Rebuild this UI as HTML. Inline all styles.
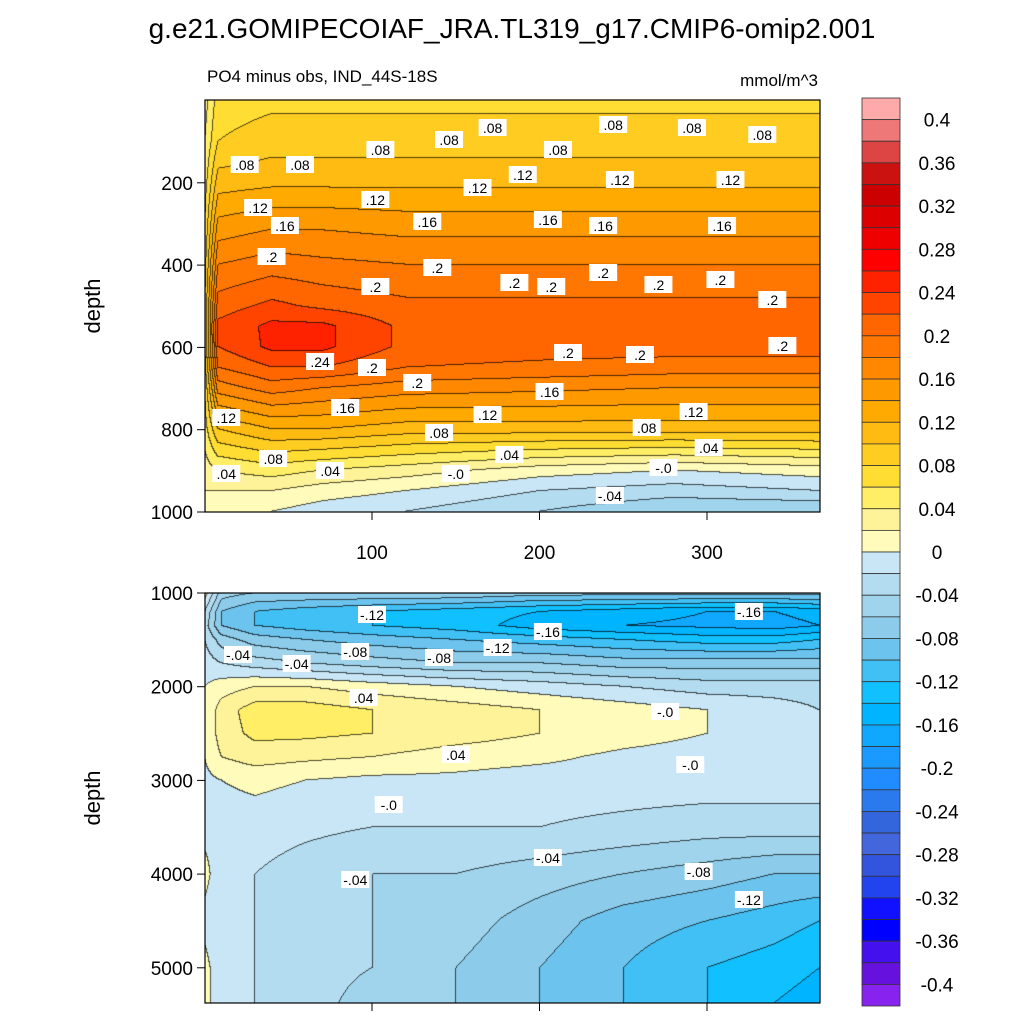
<!DOCTYPE html>
<html><head><meta charset="utf-8"><style>
body{margin:0;background:#fff;width:1024px;height:1024px;overflow:hidden;position:relative;font-family:"Liberation Sans",sans-serif}
canvas{position:absolute}
svg{position:absolute;left:0;top:0}
</style></head><body>
<canvas id="top" width="615" height="412" style="left:205px;top:100px"></canvas>
<canvas id="bot" width="615" height="410" style="left:205px;top:593px"></canvas>
<svg id="ov" width="1024" height="1024"></svg>
<script>
const warmColors=["#fffbbb","#fff399","#ffee66","#ffdd33","#ffcc22","#ffbb11","#ffaa00","#ff9900","#ff8800","#ff7700","#ff6600","#ff4400","#ff2200","#ff0000","#ee0000","#dd0000","#cc0000","#cc1111","#dd4444","#ee7777","#ffaaaa"];
const coldColors=["#c8e6f5","#b4dcf0","#a0d4ec","#8ccbea","#6cc4ee","#40c0f5","#10c0ff","#00b4ff","#10a8ff","#1a9aff","#208cff","#2a7aee","#3366dd","#4466dd","#3355dd","#2244ee","#1111ff","#0000ff","#4411ee","#6611dd","#8822ee"];
const cbLabels=["0.4","0.36","0.32","0.28","0.24","0.2","0.16","0.12","0.08","0.04","0","-0.04","-0.08","-0.12","-0.16","-0.2","-0.24","-0.28","-0.32","-0.36","-0.4"];
const cbValues=[0.4,0.36,0.32,0.28,0.24,0.2,0.16,0.12,0.08,0.04,0,-0.04,-0.08,-0.12,-0.16,-0.2,-0.24,-0.28,-0.32,-0.36,-0.4];
const topTimes=[0,8,40,70,120,200,280,367];
const topDepths=[0,100,200,300,400,500,550,600,650,700,800,900,950,1000];
const topVals=[
[0.03,0.07,0.075,0.075,0.075,0.075,0.075,0.075],
[0.04,0.08,0.09,0.09,0.09,0.09,0.09,0.09],
[0.05,0.11,0.115,0.115,0.115,0.115,0.115,0.115],
[0.06,0.145,0.155,0.155,0.15,0.15,0.15,0.15],
[0.07,0.18,0.19,0.185,0.18,0.18,0.18,0.18],
[0.08,0.21,0.225,0.215,0.205,0.205,0.205,0.205],
[0.08,0.225,0.245,0.245,0.215,0.215,0.215,0.215],
[0.08,0.22,0.245,0.245,0.215,0.21,0.21,0.21],
[0.07,0.2,0.22,0.22,0.2,0.195,0.19,0.19],
[0.06,0.17,0.19,0.18,0.17,0.165,0.16,0.16],
[0.05,0.1,0.12,0.12,0.11,0.11,0.11,0.11],
[0.03,0.04,0.05,0.04,0.03,0.01,0.0,0.01],
[0.02,0.02,0.02,0.01,0.0,-0.02,-0.03,-0.02],
[0.01,0.0,0.0,-0.01,-0.02,-0.04,-0.06,-0.06]];
const botTimes=[0,10,30,60,100,150,200,250,300,340,367];
const botDepths=[1000,1200,1350,1500,1750,2000,2250,2500,2750,3000,3500,4000,4500,5000,5375];
const botVals=[
[0.01,-0.05,-0.06,-0.06,-0.06,-0.06,-0.07,-0.07,-0.07,-0.07,-0.07],
[-0.02,-0.08,-0.1,-0.11,-0.12,-0.13,-0.14,-0.15,-0.16,-0.16,-0.15],
[-0.03,-0.08,-0.1,-0.11,-0.12,-0.13,-0.15,-0.16,-0.165,-0.17,-0.16],
[-0.02,-0.05,-0.07,-0.08,-0.09,-0.1,-0.11,-0.12,-0.13,-0.13,-0.12],
[-0.01,-0.02,-0.03,-0.04,-0.05,-0.06,-0.06,-0.07,-0.07,-0.07,-0.07],
[0.0,0.01,0.02,0.02,0.01,0.0,-0.01,-0.02,-0.03,-0.03,-0.03],
[0.0,0.03,0.05,0.05,0.04,0.03,0.02,0.01,0.0,-0.01,-0.02],
[0.0,0.03,0.045,0.045,0.04,0.03,0.02,0.01,0.0,-0.01,-0.02],
[0.0,0.02,0.03,0.025,0.02,0.01,0.005,-0.005,-0.01,-0.01,-0.015],
[-0.005,0.0,0.005,0.0,-0.005,-0.005,-0.01,-0.01,-0.01,-0.01,-0.01],
[-0.01,-0.01,-0.01,-0.015,-0.02,-0.02,-0.02,-0.025,-0.03,-0.03,-0.03],
[0.01,-0.02,-0.02,-0.03,-0.04,-0.04,-0.05,-0.06,-0.07,-0.08,-0.08],
[-0.01,-0.02,-0.02,-0.03,-0.04,-0.05,-0.07,-0.09,-0.1,-0.11,-0.12],
[0.01,-0.02,-0.02,-0.03,-0.04,-0.06,-0.08,-0.1,-0.12,-0.13,-0.14],
[0.01,-0.02,-0.02,-0.03,-0.05,-0.06,-0.08,-0.1,-0.12,-0.14,-0.15]];
const topLabels=[[".08",24,165],[".08",57,165],[".08",105,150],[".08",146,140],[".08",172,128],[".08",211,150],[".08",244,125],[".08",333,135],[".08",291,128],
[".12",32,208],[".12",102,200],[".12",163,188],[".12",190,175],[".12",248,180],[".12",314,180],
[".16",48,226],[".16",133,222],[".16",205,220],[".16",238,226],[".16",309,226],
[".2",40,257],[".2",102,287],[".2",139,268],[".2",185,283],[".2",207,287],[".2",238,273],[".2",271,285],[".2",308,280],[".2",339,300],[".2",345,346],[".2",217,353],[".2",260,355],[".2",100,368],[".2",127,383],
[".24",69,362],[".16",84,408],[".12",13,418],[".08",41,459],[".04",13,474],[".04",75,471],[".08",140,433],[".12",169,415],[".16",206,392],[".12",292,412],[".08",264,428],[".04",301,448],["-.0",274,468],["-.04",242,496],["-.0",150,474],[".04",182,455]];
const botLabels=[[".04",95,698],[".04",150,755],["-.0",110,805],["-.04",90,880],["-.04",20,655],["-.04",55,664],["-.08",90,652],["-.08",140,658],["-.12",100,615],["-.12",175,648],["-.16",205,632],["-.16",325,612],["-.0",275,712],["-.0",290,765],["-.04",205,858],["-.08",295,872],["-.12",325,900]];

function xT(t){return 204.5+t*1.675;}
function yBot(d){return 593+(d-1000)*0.0937;}
function yTop(d){return 100.5+d*0.4115;}
function lvl(v){return Math.floor(Math.round(v/0.02*1e5)/1e5);}
function col(v){const l=lvl(v);if(l>=0){return warmColors[Math.min(20,l)];}return coldColors[Math.min(20,-l-1)];}
function interp(arr,v){let i=0;while(i<arr.length-2&&v>arr[i+1])i++;let f=(v-arr[i])/(arr[i+1]-arr[i]);f=Math.max(0,Math.min(1,f));return [i,f];}
function sample(times,depths,vals,t,d){const [i,fi]=interp(times,t);const [j,fj]=interp(depths,d);
 const a=vals[j][i],b=vals[j][i+1],c=vals[j+1][i],e=vals[j+1][i+1];
 return (a*(1-fi)+b*fi)*(1-fj)+(c*(1-fi)+e*fi)*fj;}
function hex(h){return [parseInt(h.substr(1,2),16),parseInt(h.substr(3,2),16),parseInt(h.substr(5,2),16)];}
function drawField(cv,times,depths,vals,d0,dPerPx){
 const ctx=cv.getContext('2d');const W=cv.width,H=cv.height;
 const img=ctx.createImageData(W,H);const L=new Int16Array(W*H);const V=new Float32Array(W*H);
 for(let y=0;y<H;y++)for(let x=0;x<W;x++){const t=(x+0.5)/1.675;const d=d0+(y+0.5)*dPerPx;const v=sample(times,depths,vals,t,d);V[y*W+x]=v;L[y*W+x]=lvl(v);}
 for(let y=0;y<H;y++)for(let x=0;x<W;x++){const k=y*W+x;let c=hex(col(V[k]));
  const edge=(x+1<W&&L[k+1]!=L[k])||(y+1<H&&L[k+W]!=L[k]);
  if(edge)c=[c[0]*0.3,c[1]*0.3,c[2]*0.3];
  img.data[k*4]=c[0];img.data[k*4+1]=c[1];img.data[k*4+2]=c[2];img.data[k*4+3]=255;}
 ctx.putImageData(img,0,0);}
drawField(document.getElementById('top'),topTimes,topDepths,topVals,0,1/0.4115);
drawField(document.getElementById('bot'),botTimes,botDepths,botVals,1000,1/0.0937);

const NS="http://www.w3.org/2000/svg";const svg=document.getElementById('ov');
function el(tag,attrs,txt){const e=document.createElementNS(NS,tag);for(const k in attrs)e.setAttribute(k,attrs[k]);if(txt!==undefined)e.textContent=txt;svg.appendChild(e);return e;}
let e;
e=el('text',{x:512,y:38,'font-size':28,'text-anchor':'middle'},'g.e21.GOMIPECOIAF_JRA.TL319_g17.CMIP6-omip2.001');

e=el('text',{x:207,y:82,'font-size':17},'PO4 minus obs, IND_44S-18S');

e=el('text',{x:818,y:86,'font-size':17,'text-anchor':'end'},'mmol/m^3');

e=el('rect',{x:205,y:100,width:615,height:412,fill:'none',stroke:'#000','stroke-width':1.2});

e=el('rect',{x:205,y:593,width:615,height:410,fill:'none',stroke:'#000','stroke-width':1.2});

const topTicks=[200,400,600,800,1000];
topTicks.forEach(d=>{const y=yTop(d);
 e=el('line',{x1:197,x2:205,y1:y,y2:y,stroke:'#000'});
 e=el('text',{x:193,y:y+7,'font-size':19,'text-anchor':'end'},String(d));});
const botTicks=[1000,2000,3000,4000,5000];
botTicks.forEach(d=>{const y=yBot(d);
 e=el('line',{x1:197,x2:205,y1:y,y2:y,stroke:'#000'});
 e=el('text',{x:193,y:y+7,'font-size':19,'text-anchor':'end'},String(d));});
const xTicks=[100,200,300];
xTicks.forEach(t=>{const x=xT(t);
 e=el('line',{x1:x,x2:x,y1:512,y2:520,stroke:'#000'});
 e=el('text',{x:x,y:559,'font-size':19,'text-anchor':'middle'},String(t));
 e=el('line',{x1:x,x2:x,y1:1003,y2:1011,stroke:'#000'});});
e=el('text',{x:0,y:0,'font-size':22,'text-anchor':'middle',transform:'translate(100,306) rotate(-90)'},'depth');

e=el('text',{x:0,y:0,'font-size':22,'text-anchor':'middle',transform:'translate(100,798) rotate(-90)'},'depth');

function addLabels(list){list.forEach(l=>{const x=xT(l[1]);const y=l[2];
 e=el('rect',{x:x-14,y:y-9,width:28,height:17,fill:'#fff'});
 e=el('text',{x:x,y:y+5,'font-size':14,'text-anchor':'middle'},l[0]);});}
addLabels(topLabels);addLabels(botLabels);
const cbTop=98,box=908/42;
for(let i=0;i<42;i++){const c=i<21?warmColors[20-i]:coldColors[i-21];
 e=el('rect',{x:862,y:cbTop+i*box,width:38,height:box,fill:c,stroke:'#333','stroke-width':0.8});
 }
cbValues.forEach((v,i)=>{const y=cbTop+(21-v/0.02)*box;
 e=el('text',{x:937,y:y+7,'font-size':19,'text-anchor':'middle'},cbLabels[i]);
 });
</script>
</body></html>
